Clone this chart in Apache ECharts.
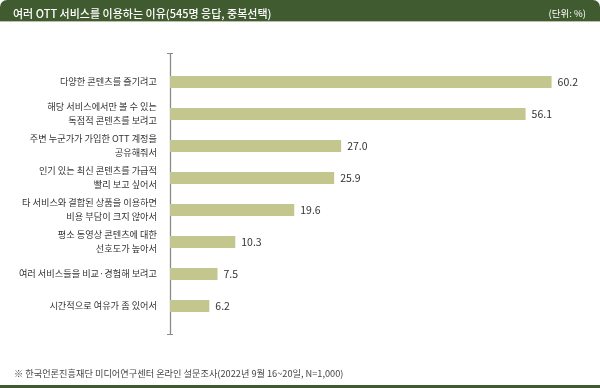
<!DOCTYPE html>
<html><head><meta charset="utf-8">
<script src="https://cdn.jsdelivr.net/npm/echarts@6/dist/echarts.min.js"></script>
<style>html,body{margin:0;padding:0;background:#fff}#c{width:600px;height:388px}</style>
</head><body><div id="c"></div>
<script>
const titleText = '여러 OTT 서비스를 이용하는 이유(545명 응답, 중복선택)';
const unitText = '(단위: %)';
const noteText = '※ 한국언론진흥재단 미디어연구센터 온라인 설문조사(2022년 9월 16~20일, N=1,000)';
const categories = [
  '다양한 콘텐츠를 즐기려고',
  '해당 서비스에서만 볼 수 있는\n독점적 콘텐츠를 보려고',
  '주변 누군가가 가입한 OTT 계정을\n공유해줘서',
  '인기 있는 최신 콘텐츠를 가급적\n빨리 보고 싶어서',
  '타 서비스와 결합된 상품을 이용하면\n비용 부담이 크지 않아서',
  '평소 동영상 콘텐츠에 대한\n선호도가 높아서',
  '여러 서비스들을 비교·경험해 보려고',
  '시간적으로 여유가 좀 있어서'
];
const values = [60.2, 56.1, 27.0, 25.9, 19.6, 10.3, 7.5, 6.2];

const FONT = '"Noto Sans CJK KR", "Noto Sans", sans-serif';
const chart = echarts.init(document.getElementById('c'), null, {renderer: 'canvas'});
chart.setOption({
  animation: false,
  backgroundColor: '#fff',
  textStyle: {fontFamily: FONT},
  title: [
    {text: titleText, left: 8, top: 3, textStyle: {color: '#fff', fontSize: 11, fontWeight: 500, fontFamily: FONT}},
    {text: unitText, right: 9, top: 4, textStyle: {color: '#fff', fontSize: 9.5, fontWeight: 'normal', fontFamily: FONT}},
    {text: noteText, left: 9, top: 364, textStyle: {color: '#444', fontSize: 9.2, fontWeight: 'normal', fontFamily: FONT}}
  ],
  graphic: [
    {type: 'rect', shape: {x: 0, y: 0, width: 600, height: 21, r: [7, 7, 0, 0]}, style: {fill: '#3f5b2f'}, z: 0},
    {type: 'rect', shape: {x: 0, y: 21, width: 600, height: 1}, style: {fill: '#b9c2a8'}, z: 0},
    {type: 'rect', shape: {x: 0, y: 385, width: 600, height: 3}, style: {fill: '#3f5b2f'}, z: 0},
    {type: 'polyline', shape: {points: [[167, 53.5], [173, 53.5]]}, style: {stroke: '#8a8a8a', lineWidth: 1}},
    {type: 'line', shape: {x1: 170.5, y1: 53.5, x2: 170.5, y2: 334.5}, style: {stroke: '#8a8a8a', lineWidth: 1.3}},
    {type: 'polyline', shape: {points: [[167, 334.5], [173, 334.5]]}, style: {stroke: '#8a8a8a', lineWidth: 1}}
  ],
  grid: {left: 170, right: 18, top: 66, height: 256, containLabel: false},
  xAxis: {type: 'value', min: 0, max: 65, show: false},
  yAxis: {
    type: 'category', data: categories, inverse: true,
    axisLine: {show: false}, axisTick: {show: false},
    axisLabel: {color: '#333', fontSize: 9.2, lineHeight: 14, margin: 13, fontFamily: FONT, align: 'right'}
  },
  series: [{
    type: 'bar', data: values, barWidth: 12,
    itemStyle: {color: '#c3c78e'},
    label: {show: true, position: 'right', distance: 6, color: '#333', fontSize: 10.5, fontFamily: FONT,
      formatter: p => p.value.toFixed(1)}
  }]
});
</script></body></html>
